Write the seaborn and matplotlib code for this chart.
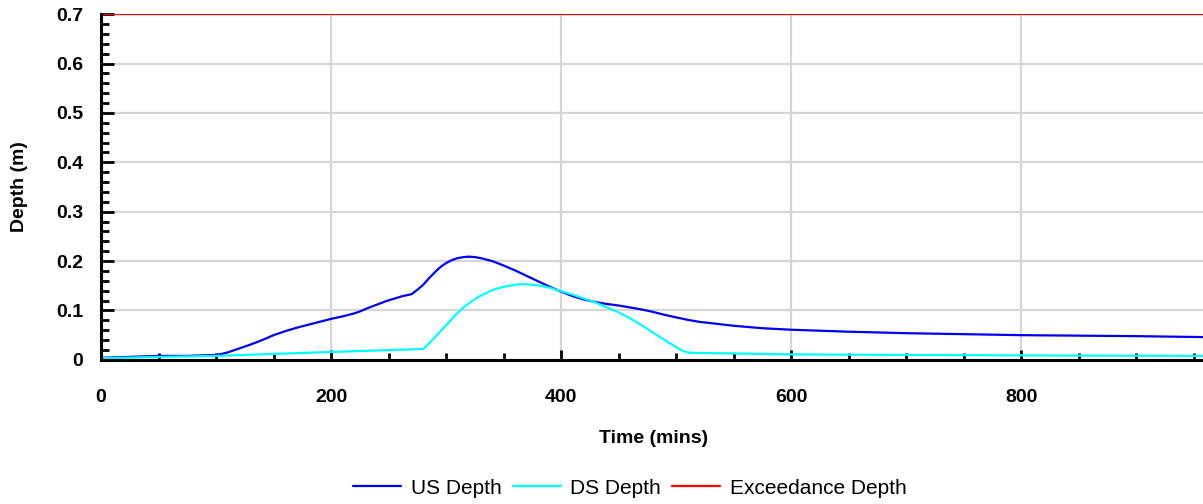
import matplotlib
matplotlib.use("Agg")
import matplotlib.pyplot as plt
from matplotlib.ticker import MultipleLocator, FuncFormatter
import seaborn as sns

# Upstream depth (m) over time (mins)
us_time = [0, 25, 50, 75, 100, 105, 110, 115, 120, 130, 140, 150, 160, 170, 180,
           190, 200, 210, 220, 225, 232, 240, 248, 255, 262, 270, 275, 280, 285,
           290, 295, 300, 305, 310, 315, 320, 325, 330, 340, 350, 360, 370, 380,
           390, 400, 410, 420, 430, 440, 450, 460, 470, 480, 490, 500, 510, 520,
           535, 550, 575, 600, 650, 700, 750, 800, 850, 900, 960]
us_depth = [0.004, 0.006, 0.008, 0.008, 0.010, 0.012, 0.015, 0.019, 0.023, 0.031,
            0.040, 0.050, 0.058, 0.065, 0.071, 0.077, 0.083, 0.088, 0.094, 0.098,
            0.105, 0.112, 0.119, 0.124, 0.129, 0.133, 0.142, 0.152, 0.165, 0.177,
            0.188, 0.196, 0.202, 0.206, 0.208, 0.209, 0.208, 0.206, 0.200, 0.191,
            0.181, 0.170, 0.159, 0.148, 0.138, 0.129, 0.122, 0.117, 0.113, 0.110,
            0.106, 0.102, 0.097, 0.091, 0.086, 0.081, 0.077, 0.073, 0.069, 0.064,
            0.061, 0.057, 0.054, 0.052, 0.050, 0.049, 0.048, 0.046]

# Downstream depth (m) over time (mins)
ds_time = [0, 50, 100, 150, 200, 240, 280, 285, 290, 295, 300, 305, 310, 315,
           320, 325, 330, 340, 350, 360, 365, 370, 380, 390, 400, 410, 420, 430,
           440, 450, 460, 470, 480, 490, 500, 505, 510, 515, 550, 600, 700, 800,
           960]
ds_depth = [0.003, 0.006, 0.008, 0.012, 0.016, 0.019, 0.022, 0.033, 0.045, 0.058,
            0.070, 0.083, 0.095, 0.106, 0.115, 0.123, 0.130, 0.141, 0.148, 0.152,
            0.153, 0.153, 0.151, 0.146, 0.139, 0.132, 0.124, 0.116, 0.106, 0.096,
            0.084, 0.070, 0.055, 0.040, 0.026, 0.019, 0.015, 0.014, 0.013, 0.011,
            0.010, 0.009, 0.008]

# Exceedance threshold (m)
exc_time = [0, 960]
exc_depth = [0.7, 0.7]

sns.set_style("white")
plt.rcParams["font.family"] = ["Liberation Sans", "DejaVu Sans"]
plt.rcParams["text.color"] = "black"
plt.rcParams["axes.labelcolor"] = "black"
plt.rcParams["xtick.color"] = "black"
plt.rcParams["ytick.color"] = "black"

fig = plt.figure(figsize=(12.03, 5.04), dpi=100)
ax = fig.add_axes([0.084, 0.286, 0.918, 0.686])

lw = 1.6
sns.lineplot(x=us_time, y=us_depth, ax=ax, color="#0000F0", lw=lw, label="US Depth")
sns.lineplot(x=ds_time, y=ds_depth, ax=ax, color="#00FFFF", lw=lw, label="DS Depth")
sns.lineplot(x=exc_time, y=exc_depth, ax=ax, color="#FF0000", lw=lw, label="Exceedance Depth")

ax.set_xlim(0, 960)
ax.set_ylim(0, 0.7)

ax.xaxis.set_major_locator(MultipleLocator(200))
ax.xaxis.set_minor_locator(MultipleLocator(50))
ax.yaxis.set_major_locator(MultipleLocator(0.1))
ax.yaxis.set_minor_locator(MultipleLocator(0.02))
ax.xaxis.set_major_formatter(FuncFormatter(lambda v, p: f"{v:.0f}"))
ax.yaxis.set_major_formatter(FuncFormatter(lambda v, p: "0" if abs(v) < 1e-9 else f"{v:.1f}"))

ax.grid(True, which="major", color="#d6d6d6", lw=1.6)
ax.set_axisbelow(True)

for s in ("top", "right"):
    ax.spines[s].set_visible(False)
for s in ("left", "bottom"):
    ax.spines[s].set_color("black")
    ax.spines[s].set_linewidth(2.2)

ax.tick_params(axis="both", which="both", direction="in", color="black", width=2,
               bottom=True, left=True, top=False, right=False)
ax.tick_params(axis="both", which="major", labelsize=14, labelcolor="black")
ax.tick_params(axis="x", which="major", length=7, pad=21)
ax.tick_params(axis="y", which="major", length=9, pad=13)
ax.tick_params(axis="x", which="minor", length=5)
ax.tick_params(axis="y", which="minor", length=6)
for lab in ax.get_xticklabels() + ax.get_yticklabels():
    lab.set_fontweight("bold")

ax.set_xlabel("Time (mins)", fontsize=14, fontweight="bold", labelpad=17, color="black")
ax.set_ylabel("Depth (m)", fontsize=14, fontweight="bold", labelpad=20, color="black")

ax.get_legend().remove()
handles, labels = ax.get_legend_handles_labels()
fig.legend(handles, labels, loc="center", bbox_to_anchor=(630 / 1203, 1 - 488 / 504),
           ncol=3, frameon=False, fontsize=15, handlelength=2.3, handletextpad=0.45,
           columnspacing=0.55, labelcolor="black")

fig.savefig("out.png", dpi=100)
